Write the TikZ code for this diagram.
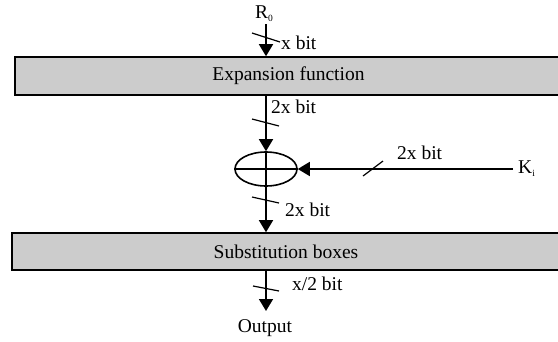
\documentclass[tikz,border=0pt]{standalone}
\usepackage{fontspec}
\setmainfont{Liberation Serif}
\usetikzlibrary{arrows.meta,shapes.geometric}
\newcommand\sbsc[1]{\raisebox{-0.35ex}{\fontsize{9.5}{9.5}\selectfont #1}}
\begin{document}
\begin{tikzpicture}[x=1pt,y=-1pt,
  every node/.style={font=\fontsize{19.5}{21}\selectfont, inner sep=0pt},
  blk/.style={draw=black, line width=1.6pt, fill=black!20, minimum width=556pt, minimum height=38pt},
  arr/.style={line width=1.6pt, -{Triangle[length=12pt,width=14pt]}},
  ln/.style={line width=1.6pt},
  slash/.style={line width=1.2pt}]
\useasboundingbox (0,0) rectangle (558,341);
\clip (0,0) rectangle (558,341);
% blocks
\node[blk] (exp) at (293,76) {\hspace*{-9pt}Expansion function};
\node[blk, minimum height=37pt] (sub) at (290,251.5) {\hspace*{-8pt}Substitution boxes};
% xor
\node[draw, ellipse, line width=1.6pt, minimum width=62pt, minimum height=34pt] (xor) at (266,169) {};
\draw[ln] (xor.west) -- (xor.east);
\draw[ln] (xor.north) -- (xor.south);
% labels
\node (r0) at (264,14) {R\sbsc{0}};
\coordinate (r0b) at (266,24);
\node[anchor=west] (l1) at (281,43) {x bit};
\node[anchor=west] (l2) at (271,107) {2x bit};
\node[anchor=west] (l3) at (285,210) {2x bit};
\node[anchor=west] (l4) at (397,153) {2x bit};
\node[anchor=west] (ki) at (518,169) {K\sbsc{i}};
\node[anchor=west] (l5) at (292,284) {x/2 bit};
\node (out) at (265,328) {Output};
\coordinate (outt) at (266,311);
% connectors
\draw[arr] (r0b) -- (r0b |- exp.north);
\draw[arr] (exp.south -| xor) -- (xor.north);
\draw[arr] (xor.south) -- (xor |- sub.north);
\draw[arr] (ki.west) ++(-5,0) -- (xor.east);
\draw[arr] (sub.south -| xor) -- (outt);
% slashes
\draw[slash] (252,33) -- (280,42);
\draw[slash] (252,119) -- (279,126);
\draw[slash] (252,197) -- (279,203);
\draw[slash] (363,176) -- (383,161);
\draw[slash] (253,286) -- (279,291);
\end{tikzpicture}
\end{document}
